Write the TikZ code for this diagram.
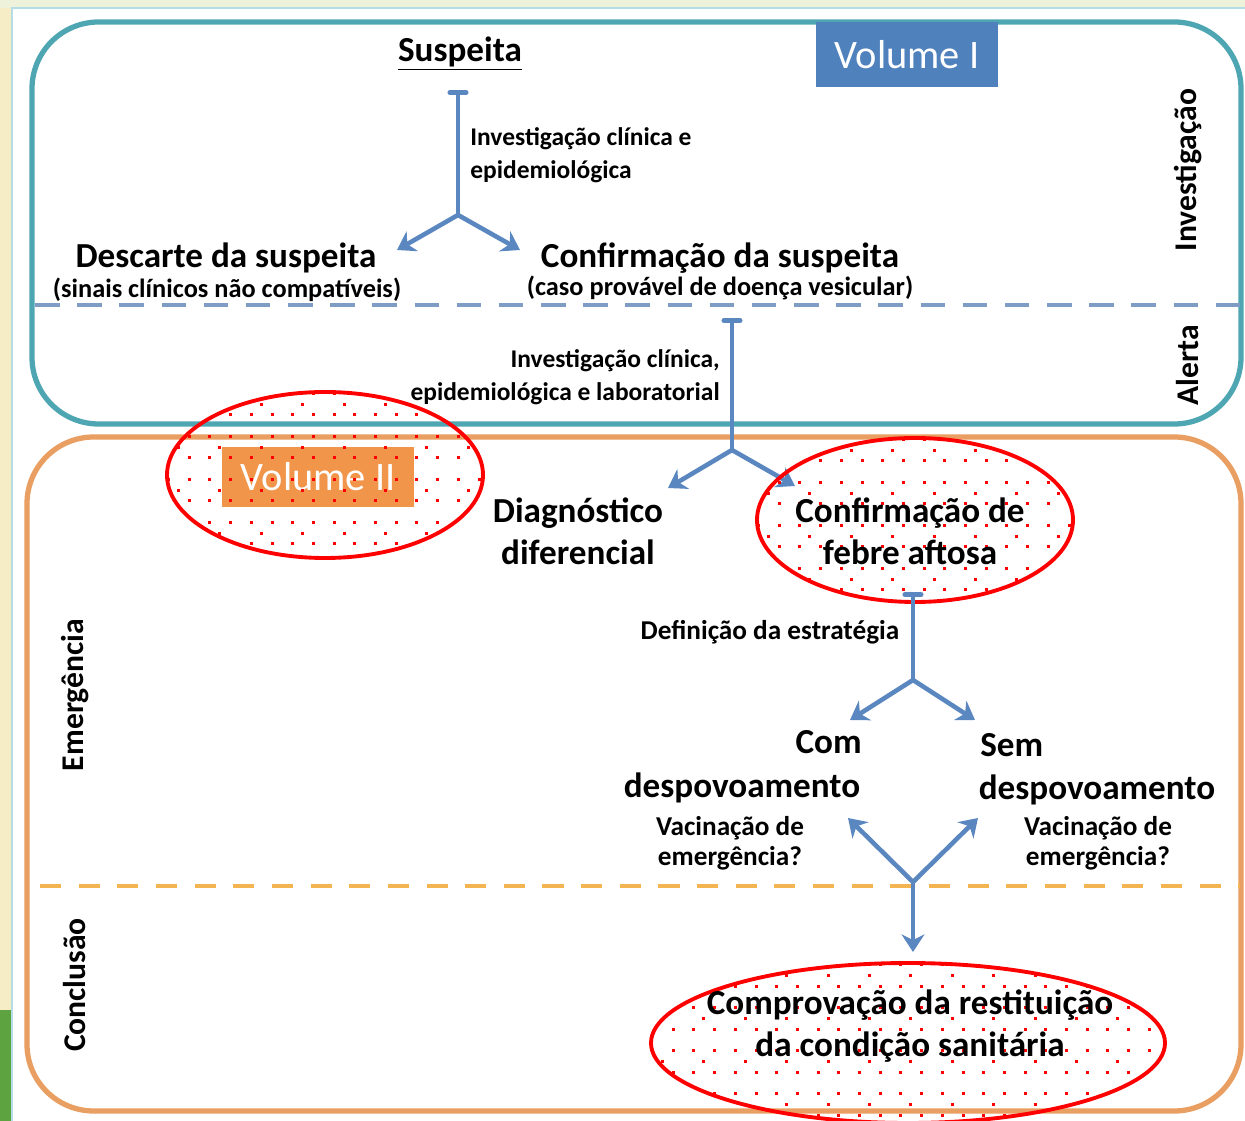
\documentclass[tikz,border=0pt]{standalone}
\usepackage{fontspec}
\setmainfont{Carlito}
\usetikzlibrary{arrows.meta}
\definecolor{bgg}{HTML}{EEF2DA}
\definecolor{creamc}{HTML}{F6EDC6}
\definecolor{panelb}{HTML}{B5DDE6}
\definecolor{boxblue}{HTML}{4FA6B3}
\definecolor{boxorange}{HTML}{E99E62}
\definecolor{arrblue}{HTML}{5A87C0}
\definecolor{dashblue}{HTML}{7F9CC4}
\definecolor{dashorange}{HTML}{F2B552}
\definecolor{volblue}{HTML}{4F81BD}
\definecolor{volorange}{HTML}{F0954A}
\definecolor{greenc}{HTML}{5DA33F}
\tikzset{
  frame/.style={line width=3pt, rounded corners=38pt},
  flow/.style={line width=2.6pt, draw=arrblue},
  tipend/.style={-{Stealth[length=10pt,width=13pt]}},
  capstart/.style={{Bar[width=9pt,line cap=round,line width=3pt]}-},
  big/.style={font=\bfseries\fontsize{20}{24}\selectfont, align=center, inner sep=0pt},
  mid/.style={font=\bfseries\fontsize{15.5}{17}\selectfont, align=center, inner sep=0pt},
  small/.style={font=\bfseries\fontsize{14.5}{19}\selectfont, align=left, inner sep=0pt},
  paren/.style={font=\bfseries\fontsize{15}{17}\selectfont, inner sep=0pt},
  side/.style={font=\bfseries\fontsize{18}{20}\selectfont, rotate=90, inner sep=0pt},
  vol/.style={font=\fontsize{23}{26}\selectfont, text=white, inner sep=0pt},
  redring/.style={draw=red, line width=2.2pt},
}
\newcommand\dotell[4]{%
  \begin{scope}
    \clip (#1,#2) ellipse [x radius={#3*0.02cm}, y radius={#4*0.02cm}];
    \pgfmathtruncatemacro\ncol{2*#3/20.7+1}
    \pgfmathtruncatemacro\nrow{2*#4/21.5+1}
    \pgfmathtruncatemacro\nrowb{2*#4/43+1}
    \pgfmathtruncatemacro\ncolb{2*#3/41.4+1}
    \foreach \j in {0,...,\nrow}{
      \foreach \i in {0,...,\ncol}{
        \fill[red] ({#1-#3+\i*20.7},{#2-#4+\j*21.5}) rectangle +(3,3);
      }
    }
    \foreach \j in {0,...,\nrowb}{
      \foreach \i in {0,...,\ncolb}{
        \fill[red] ({#1-#3+10+\i*41.4},{#2-#4+10.7+\j*43}) rectangle +(3,3);
      }
    }
  \end{scope}
  \draw[redring] (#1,#2) ellipse [x radius={#3*0.02cm}, y radius={#4*0.02cm}];
}
\begin{document}
\begin{tikzpicture}[x=0.02cm,y=-0.02cm]
\useasboundingbox (0,0) rectangle (1245,1121);
% background
\fill[bgg] (0,0) rectangle (1245,1121);
\fill[creamc] (0,8) rectangle (12,1121);
\fill[greenc] (0,1010) rectangle (12,1121);
\fill[white] (12,8) rectangle (1245,1121);
\draw[panelb, line width=1.5pt] (12,1121) -- (12,8) -- (1245,8);
% frames
\draw[frame, boxblue] (32,22) rectangle (1241,424);
\draw[frame, boxorange] (27,437) rectangle (1241,1111);
% dashed separators
\draw[dashblue, line width=2pt, dash pattern=on 14pt off 10pt] (35,305) -- (1240,305);
\draw[dashorange, line width=2pt, dash pattern=on 12pt off 10pt] (40,886) -- (1240,886);
% volume labels
\node[vol, fill=volblue, minimum width=3.64cm, minimum height=1.3cm] (v1) at (907,55) {Volume I};
% title
\node[font=\bfseries\fontsize{20}{22}\selectfont, inner sep=0pt] (susp) at (460,54) {\underline{Suspeita}};
% tree 1
\coordinate (a1) at (458,90);
\coordinate (b1) at (458,215);
\coordinate (l1) at (397,250);
\coordinate (r1) at (520,250);
\draw[flow, capstart] (a1) -- (b1);
\draw[flow, tipend] (b1) -- (l1);
\draw[flow, tipend] (b1) -- (r1);
\node[small, anchor=west] (lab1) at (470,155) {Investigação clínica e\\epidemiológica};
\node[big] (desc) at (226,258) {Descarte da suspeita};
\node[paren] (desc2) at (227,290) {(sinais clínicos não compatíveis)};
\node[big] (conf) at (720,258) {Confirmação da suspeita};
\node[paren] (conf2) at (720,288) {(caso provável de doença vesicular)};
\node[side] (inv) at (1188,170) {Investigação};
\node[side] (alert) at (1188,365) {Alerta};
% tree 2
\coordinate (a2) at (732,318);
\coordinate (b2) at (732,450);
\coordinate (l2) at (668,488);
\coordinate (r2) at (795,486);
\draw[flow, capstart] (a2) -- (b2);
\draw[flow, tipend] (b2) -- (l2);
\draw[flow, tipend] (b2) -- (r2);
\node[small, align=right, anchor=east] (lab2) at (720,377) {Investigação clínica,\\epidemiológica e laboratorial};
% ellipse 1 + volume II
\node[vol, fill=volorange, minimum width=3.84cm, minimum height=1.2cm] (v2) at (318,477) {Volume II};
\dotell{325}{475}{158}{83}
\node[big] (diag) at (578,531) {Diagnóstico\\diferencial};
\dotell{915}{520}{158}{82}
\node[big] (febre) at (910,531) {Confirmação de\\febre aftosa};
% tree 3
\coordinate (a3) at (913,592);
\coordinate (b3) at (913,680);
\coordinate (l3) at (850,720);
\coordinate (r3) at (975,720);
\draw[flow, capstart] (a3) -- (b3);
\draw[flow, tipend] (b3) -- (l3);
\draw[flow, tipend] (b3) -- (r3);
\node[font=\bfseries\fontsize{15.5}{17}\selectfont, inner sep=0pt] (lab3) at (770,632) {Definição da estratégia};
\node[big, anchor=east] (com) at (862,742) {Com};
\node[big] (comd) at (742,788) {despovoamento};
\node[mid] (comv) at (730,843) {Vacinação de\\emergência?};
\node[big, anchor=west] (sem) at (980,745) {Sem};
\node[big] (semd) at (1097,790) {despovoamento};
\node[mid] (semv) at (1098,843) {Vacinação de\\emergência?};
% tree 4
\coordinate (b4) at (913,882);
\coordinate (l4) at (848,818);
\coordinate (r4) at (978,818);
\coordinate (d4) at (913,952);
\draw[flow, tipend] (b4) -- (l4);
\draw[flow, tipend] (b4) -- (r4);
\draw[flow, tipend] (b4) -- (d4);
\node[side] (emer) at (75,695) {Emergência};
\node[side] (concl) at (75,985) {Conclusão};
% ellipse 3
\dotell{908}{1043}{257}{80}
\node[big] (comp) at (910,1026) {Comprovação da restituição\\da condição sanitária};
\end{tikzpicture}
\end{document}
